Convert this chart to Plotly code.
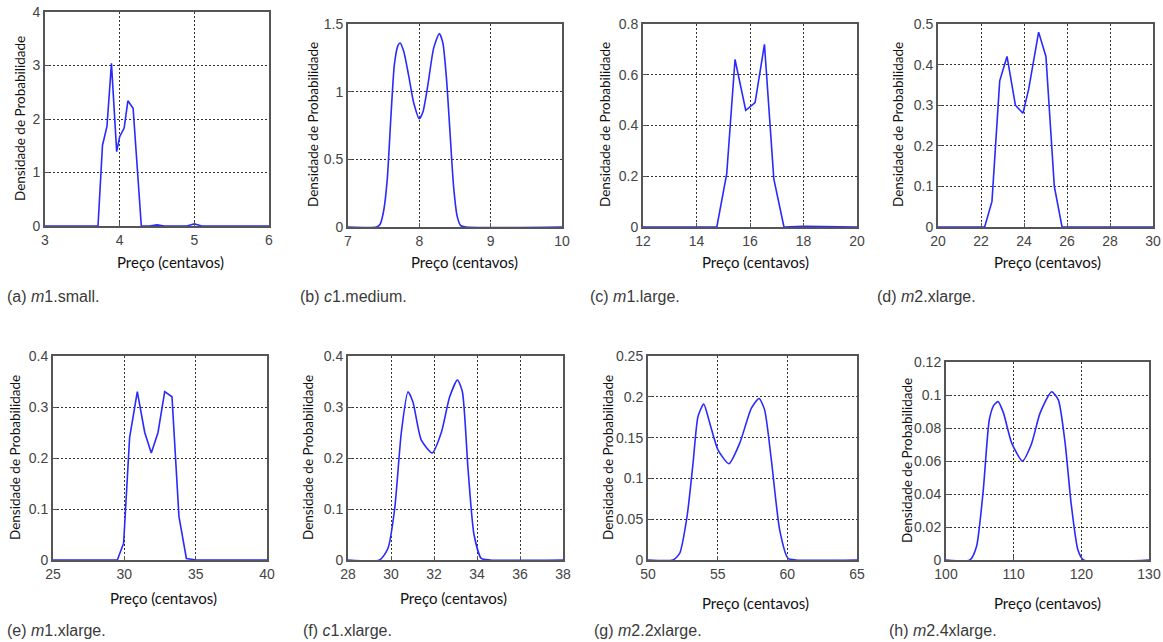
import plotly.graph_objects as go

W, H = 1163, 642

# ---------------- data ----------------
a_x = [3.0, 3.71, 3.77, 3.83, 3.89, 3.96, 4.0, 4.06, 4.11, 4.18, 4.29, 4.4, 4.5, 4.6, 4.9, 5.0, 5.1, 6.0]
a_y = [0, 0, 1.51, 1.86, 3.04, 1.39, 1.67, 1.83, 2.34, 2.20, 0, 0, 0.02, 0, 0, 0.04, 0, 0]

b_x = [7.0, 7.40, 7.45, 7.50, 7.55, 7.60, 7.65, 7.70, 7.73, 7.78, 7.85, 7.92, 8.0, 8.05, 8.12, 8.20, 8.28, 8.33, 8.38, 8.43, 8.48, 8.53, 8.58, 8.65, 10.0]
b_y = [0, 0, 0.02, 0.12, 0.35, 0.80, 1.20, 1.34, 1.36, 1.30, 1.12, 0.92, 0.80, 0.85, 1.05, 1.32, 1.43, 1.36, 1.10, 0.70, 0.30, 0.08, 0.01, 0, 0]

c_x = [12.0, 14.76, 15.13, 15.44, 15.84, 16.19, 16.54, 16.89, 17.27, 18.0, 20.0]
c_y = [0, 0, 0.21, 0.66, 0.46, 0.49, 0.72, 0.19, 0, 0.003, 0]

d_x = [20.0, 22.17, 22.51, 22.87, 23.21, 23.60, 23.95, 24.22, 24.68, 25.02, 25.41, 25.77, 30.0]
d_y = [0, 0, 0.063, 0.36, 0.42, 0.30, 0.28, 0.34, 0.48, 0.42, 0.10, 0, 0]

e_x = [25.0, 29.51, 29.95, 30.37, 30.91, 31.43, 31.89, 32.36, 32.83, 33.34, 33.83, 34.35, 35.05, 40.0]
e_y = [0, 0, 0.033, 0.24, 0.33, 0.25, 0.21, 0.25, 0.33, 0.32, 0.085, 0.003, 0, 0]

f_x = [28.0, 29.47, 29.86, 30.17, 30.48, 30.79, 31.02, 31.41, 31.92, 32.34, 32.73, 33.09, 33.32, 33.58, 33.86, 34.2, 34.6, 38.0]
f_y = [0, 0, 0.023, 0.10, 0.25, 0.33, 0.31, 0.235, 0.21, 0.25, 0.32, 0.353, 0.33, 0.18, 0.05, 0.003, 0, 0]

g_x = [50.0, 51.79, 52.27, 52.8, 53.23, 53.59, 54.0, 54.43, 55.02, 55.81, 56.58, 57.42, 57.97, 58.37, 58.85, 59.45, 60.05, 60.6, 65.0]
g_y = [0, 0, 0.008, 0.053, 0.118, 0.176, 0.191, 0.168, 0.135, 0.118, 0.143, 0.186, 0.198, 0.184, 0.123, 0.037, 0.002, 0, 0]

h_x = [100.0, 103.54, 104.5, 105.5, 106.4, 107.1, 107.7, 108.5, 109.7, 111.3, 112.6, 113.9, 115.6, 116.6, 117.6, 118.5, 119.5, 120.3, 130.0]
h_y = [0, 0, 0.008, 0.042, 0.085, 0.094, 0.096, 0.089, 0.071, 0.060, 0.070, 0.089, 0.102, 0.097, 0.071, 0.034, 0.006, 0, 0]

captions = ["(a) <i>m</i>1.small.", "(b) <i>c</i>1.medium.", "(c) <i>m</i>1.large.", "(d) <i>m</i>2.xlarge.",
            "(e) <i>m</i>1.xlarge.", "(f) <i>c</i>1.xlarge.", "(g) <i>m</i>2.2xlarge.", "(h) <i>m</i>2.4xlarge."]

x_ranges = [(3, 6), (7, 10), (12, 20), (20, 30), (25, 40), (28, 38), (50, 65), (100, 130)]
x_dticks = [1, 1, 2, 2, 5, 2, 5, 10]
y_ranges = [(0, 4), (0, 1.5), (0, 0.8), (0, 0.5), (0, 0.4), (0, 0.4), (0, 0.25), (0, 0.12)]
y_dticks = [1, 0.5, 0.2, 0.1, 0.1, 0.1, 0.05, 0.02]

series = [(a_x, a_y, "linear"), (b_x, b_y, "spline"), (c_x, c_y, "linear"), (d_x, d_y, "linear"),
          (e_x, e_y, "linear"), (f_x, f_y, "spline"), (g_x, g_y, "spline"), (h_x, h_y, "spline")]

# ---------------- layout (pixel boxes) ----------------
boxes = [(45, 269, 12, 226), (348, 562, 24, 227), (643, 857, 24, 227), (938, 1153, 24, 227),
         (53, 267, 356, 560), (348, 563, 356, 560), (648, 857, 356, 560), (946, 1149, 362, 560)]
ytitle_pos = [(20, 119), (313, 125), (605, 125), (898, 125), (15, 458), (308, 458), (608, 458), (907, 461)]
xtitle_pos = [(170, 262), (464, 262), (755, 262), (1047, 262), (163, 598), (453, 598), (755, 603), (1047, 603)]
caption_pos = [(5, 296), (298, 296), (588, 296), (875, 296), (5, 630), (301, 630), (592, 630), (887, 630)]

fig = go.Figure()
layout = dict(width=W, height=H, margin=dict(l=0, r=0, t=0, b=0, pad=0, autoexpand=False),
              autosize=False, paper_bgcolor="white", plot_bgcolor="white", showlegend=False)
annotations = []

tickfont = dict(family="Liberation Sans, Arial", size=14, color="#444")
for i, ((xs, ys, shape), (x0, x1, y0, y1)) in enumerate(zip(series, boxes)):
    n = "" if i == 0 else str(i + 1)
    fig.add_trace(go.Scatter(x=xs, y=ys, mode="lines", xaxis="x" + n, yaxis="y" + n,
                             line=dict(color="#2a2aff", width=1.6, shape=shape,
                                       smoothing=0.6 if shape == "spline" else None)))
    common = dict(showline=True, linecolor="#555", linewidth=2, mirror=True,
                  showgrid=True, gridcolor="#333", griddash="2px,2px", gridwidth=1,
                  zeroline=False, ticks="inside", ticklen=4, tickcolor="#555",
                  tickfont=tickfont, fixedrange=True, automargin=False)
    layout["xaxis" + n] = dict(common, domain=[x0 / W, x1 / W], range=list(x_ranges[i]),
                               dtick=x_dticks[i], tick0=0, anchor="y" + n)
    layout["yaxis" + n] = dict(common, domain=[1 - y1 / H, 1 - y0 / H], range=list(y_ranges[i]),
                               dtick=y_dticks[i], tick0=0, anchor="x" + n)
    tx, ty = ytitle_pos[i]
    annotations.append(dict(x=tx / W, y=1 - ty / H, xref="paper", yref="paper", text="Densidade de Probabilidade",
                            textangle=-90, showarrow=False, xanchor="center", yanchor="middle",
                            font=dict(family="Lato, Open Sans", size=13.5, color="#111")))
    tx, ty = xtitle_pos[i]
    annotations.append(dict(x=tx / W, y=1 - ty / H, xref="paper", yref="paper", text="Preço (centavos)",
                            showarrow=False, xanchor="center", yanchor="middle",
                            font=dict(family="Lato, Open Sans", size=15, color="#111")))
    tx, ty = caption_pos[i]
    annotations.append(dict(x=tx / W, y=1 - ty / H, xref="paper", yref="paper", text=captions[i],
                            showarrow=False, xanchor="left", yanchor="middle",
                            font=dict(family="Liberation Sans Narrow, Liberation Sans", size=16, color="#3a3a3a")))

layout["annotations"] = annotations
fig.update_layout(**layout)
fig.write_html("out.html", config={"displayModeBar": False},
               post_script="document.body.style.margin='0px';document.body.style.overflow='hidden';")
